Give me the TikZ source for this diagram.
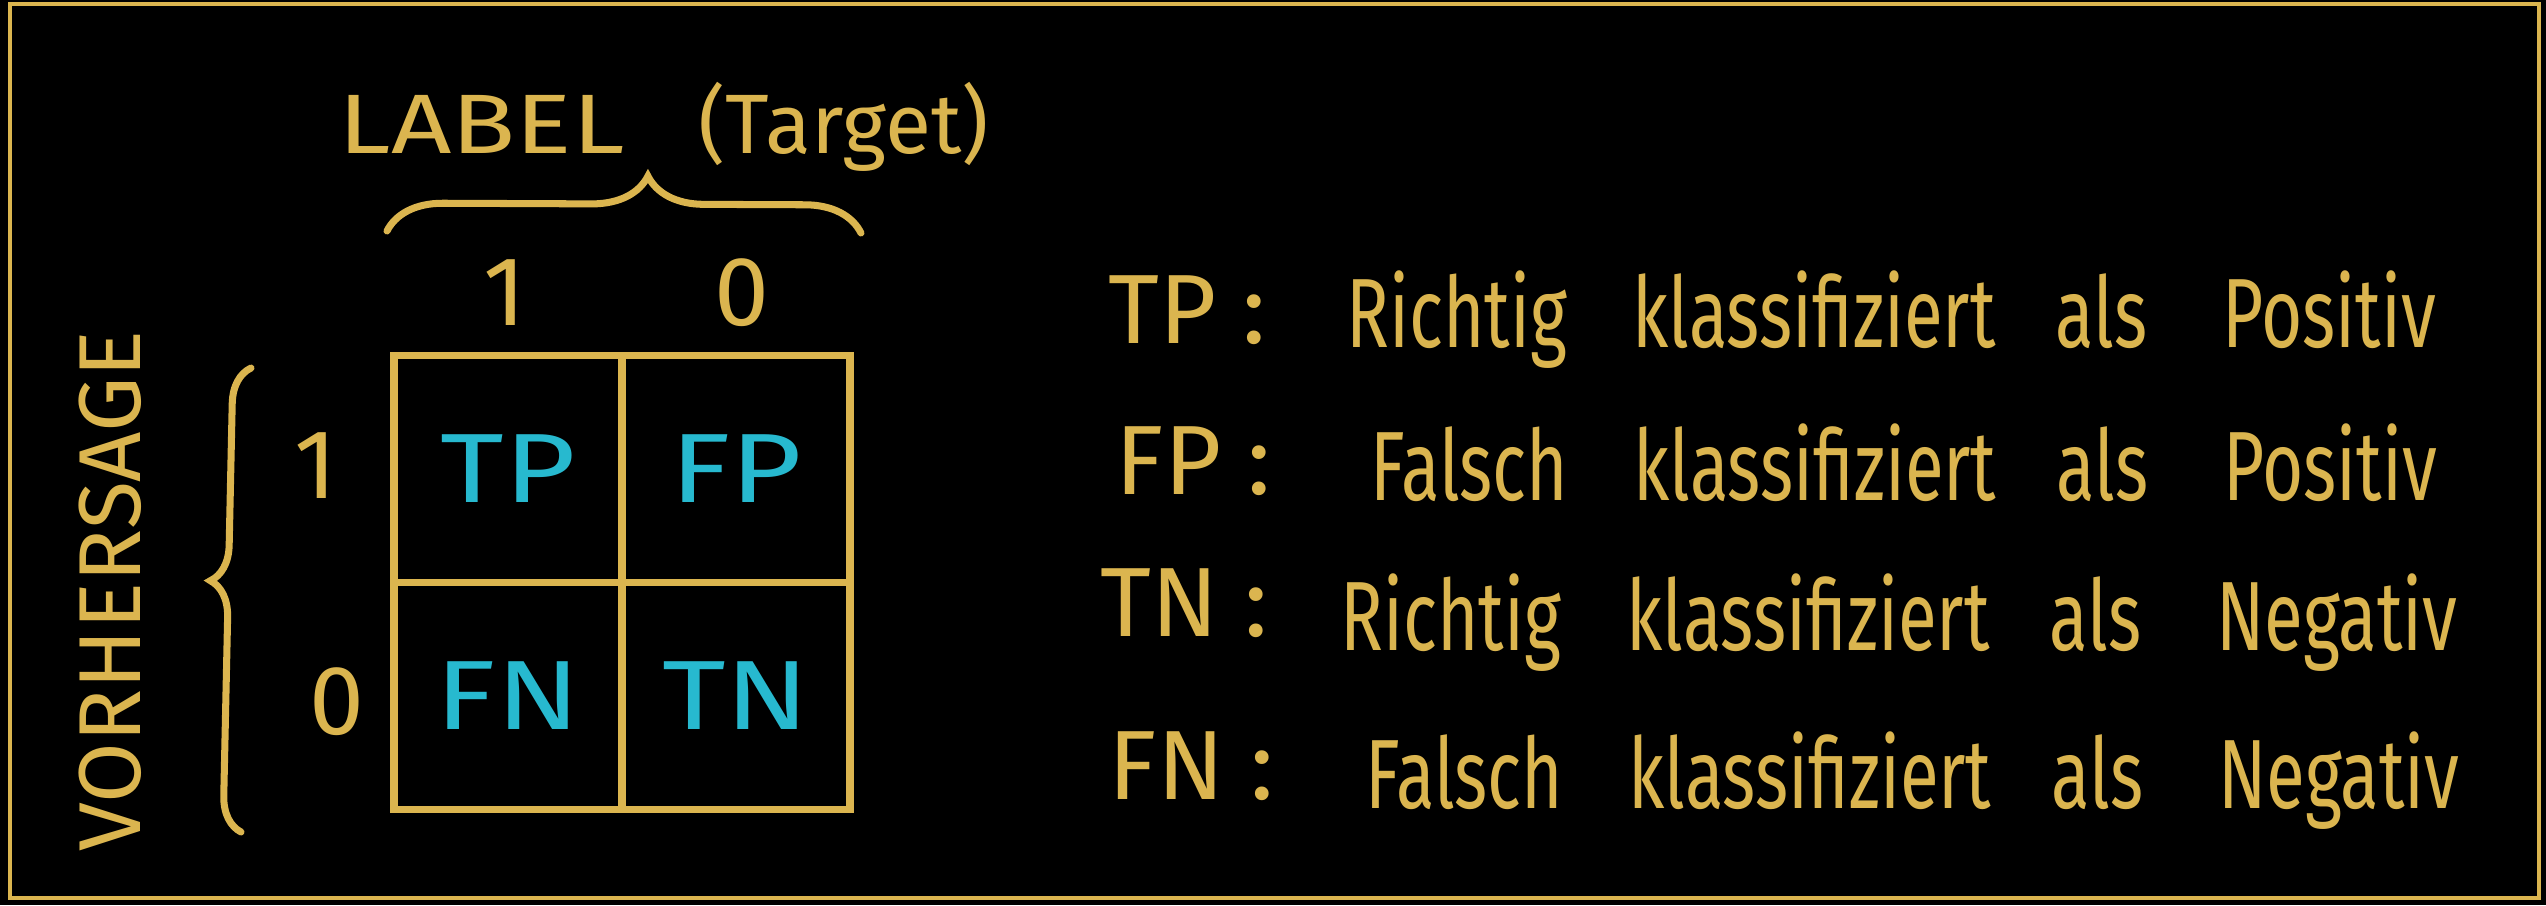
\documentclass[tikz,border=0pt]{standalone}
\usepackage{fontspec}
\setmainfont{Fira Sans}
\newfontfamily\handfont{Fira Sans}[FakeStretch=0.72]
\newfontfamily\widefont{Fira Sans}[FakeStretch=1.25]
\usepackage{xcolor}
\usetikzlibrary{positioning,decorations.pathreplacing}

\definecolor{gold}{HTML}{DBB54F}
\definecolor{tcyan}{HTML}{27B9CF}

\begin{document}
\begin{tikzpicture}[
  cell/.style={draw=gold, line width=2pt, minimum width=2.28cm, minimum height=2.27cm,
    outer sep=0pt, inner sep=0pt, text=tcyan, font=\widefont\fontsize{28}{30}\selectfont},
  txt/.style={text=gold, inner sep=0pt, font=\fontsize{28}{30}\selectfont},
  deftxt/.style={txt, anchor=base west, font=\handfont\fontsize{28}{30}\selectfont},
  small/.style={text=gold, inner sep=0pt, font=\fontsize{24}{26}\selectfont},
  brace/.style={draw=gold, line width=2pt, line cap=round, decorate}
]
  \useasboundingbox (0,0) rectangle (25.46,9.05);

  % Background and frame
  \fill[black] (0,0) rectangle (25.46,9.05);
  \draw[gold, line width=1.2pt] (0.10,0.07) rectangle (25.39,9.01);

  % Confusion matrix
  \node[cell] (TP) at (5.08,4.36) {TP};
  \node[cell, right=0pt of TP] (FP) {FP};
  \node[cell, below=0pt of TP] (FN) {FN};
  \node[cell, right=0pt of FN] (TN) {TN};

  % Axis labels
  \node[small, anchor=base west] (label) at (3.38,7.52) {{\widefont LABEL}\hspace{0.74cm}(Target)};
  \draw[brace, decoration={brace, amplitude=0.56cm, aspect=0.55}] (3.87,6.74) -- (8.61,6.72);
  \node[txt, anchor=base] (col1) at (5.05,5.80) {1};
  \node[txt, anchor=base] (col0) at (7.42,5.80) {0};

  \node[small, rotate=90, font=\fontsize{25}{27}\selectfont] (pred) at (1.10,3.14) {VORHERSAGE};
  \draw[brace, decoration={brace, amplitude=0.36cm, aspect=0.54}] (2.41,0.73) -- (2.51,5.37);
  \node[txt, anchor=base] (row1) at (3.16,4.07) {1};
  \node[txt, anchor=base] (row0) at (3.37,1.71) {0};

  % Legend
  \node[txt, anchor=base west] (kTP) at (11.08,5.62) {TP :};
  \node[deftxt] (dTP) at (13.46,5.58) {Richtig\hspace{0.65cm}klassifiziert\hspace{0.6cm}als\hspace{0.75cm}Positiv};
  \node[txt, anchor=base west] (kFP) at (11.15,4.11) {FP :};
  \node[deftxt] (dFP) at (13.70,4.05) {Falsch\hspace{0.65cm}klassifiziert\hspace{0.6cm}als\hspace{0.75cm}Positiv};
  \node[txt, anchor=base west] (kTN) at (11.00,2.69) {TN :};
  \node[deftxt] (dTN) at (13.40,2.55) {Richtig\hspace{0.65cm}klassifiziert\hspace{0.6cm}als\hspace{0.75cm}Negativ};
  \node[txt, anchor=base west] (kFN) at (11.08,1.06) {FN :};
  \node[deftxt] (dFN) at (13.65,0.97) {Falsch\hspace{0.65cm}klassifiziert\hspace{0.6cm}als\hspace{0.75cm}Negativ};

\end{tikzpicture}
\end{document}
